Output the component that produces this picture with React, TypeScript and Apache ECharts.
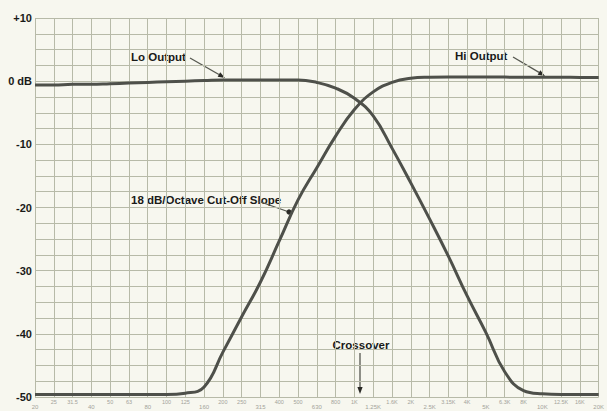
import React, { useEffect, useRef } from 'react';
import * as echarts from 'echarts';

const frequencies = ['20', '25', '31.5', '40', '50', '63', '80', '100', '125', '160', '200', '250', '315', '400', '500', '630', '800', '1K', '1.25K', '1.6K', '2K', '2.5K', '3.15K', '4K', '5K', '6.3K', '8K', '10K', '12.5K', '16K', '20K'];

const loOutput = [-0.6, -0.6, -0.5, -0.5, -0.4, -0.3, -0.2, -0.1, 0, 0.1, 0.2, 0.2, 0.2, 0.2, 0.2, -0.2, -1.1, -2.7, -5.5, -10.6, -16.1, -21.8, -27.7, -34, -39.8, -46, -49, -49.5, -49.6, -49.6, -49.6];

const hiOutput = [-49.6, -49.6, -49.6, -49.6, -49.6, -49.6, -49.6, -49.6, -49.4, -48.4, -42.9, -37.3, -31.8, -25.3, -18.8, -13.7, -8.7, -4.5, -1.7, -0.2, 0.45, 0.62, 0.66, 0.65, 0.65, 0.64, 0.63, 0.62, 0.62, 0.6, 0.6];

const yTickLabels: Record<string, string> = { '10': '+10', '0': '0 dB', '-10': '-10', '-20': '-20', '-30': '-30', '-40': '-40', '-50': '-50' };

const FONT = '"Liberation Sans", Arial, sans-serif';
const INK = '#1a1a18';

function arrow(x1: number, y1: number, x2: number, y2: number, len = 7, half = 2.6) {
  const a = Math.atan2(y2 - y1, x2 - x1);
  const bx = x2 - len * Math.cos(a);
  const by = y2 - len * Math.sin(a);
  const px = -Math.sin(a) * half;
  const py = Math.cos(a) * half;
  return {
    type: 'group',
    children: [
      { type: 'line', shape: { x1, y1, x2: bx, y2: by }, style: { stroke: '#55574f', lineWidth: 1.3 } },
      { type: 'polygon', shape: { points: [[x2, y2], [bx + px, by + py], [bx - px, by - py]] }, style: { fill: '#2a2a26' } },
    ],
  };
}

function textEl(x: number, y: number, text: string, align: string = 'left') {
  return {
    type: 'text',
    x,
    y,
    style: { text, fill: INK, font: `bold 11.5px ${FONT}`, align, verticalAlign: 'middle' },
  };
}

export default function App() {
  const ref = useRef<HTMLDivElement>(null);
  useEffect(() => {
    if (!ref.current) return;
    const chart = echarts.init(ref.current, null, { renderer: 'svg' });
    const gridColor = '#b7baa8';
    chart.setOption({
      animation: false,
      backgroundColor: '#f7f7ef',
      textStyle: { fontFamily: FONT },
      grid: { left: 35, right: 0, top: 18, bottom: 14, containLabel: false },
      xAxis: [
        {
          type: 'category',
          data: frequencies,
          boundaryGap: false,
          axisLine: { show: false },
          axisTick: { show: false },
          splitLine: { show: true, interval: 0, lineStyle: { color: gridColor, width: 1 } },
          axisLabel: {
            interval: 0,
            hideOverlap: false,
            margin: 2,
            fontSize: 5.5,
            color: '#a3a39a',
            formatter: (v: string, i: number) => (i % 3 === 0 ? '' : v),
          },
        },
        {
          type: 'category',
          data: frequencies,
          boundaryGap: false,
          position: 'bottom',
          axisLine: { show: false },
          axisTick: { show: false },
          splitLine: { show: false },
          axisLabel: {
            interval: 0,
            hideOverlap: false,
            margin: 7,
            fontSize: 6,
            color: '#a3a39a',
            formatter: (v: string, i: number) => (i % 3 === 0 ? v : ''),
          },
        },
      ],
      yAxis: {
        type: 'value',
        min: -50,
        max: 10,
        interval: 2.5,
        axisLine: { show: false },
        axisTick: { show: false },
        splitLine: { show: true, lineStyle: { color: gridColor, width: 1 } },
        axisLabel: {
          margin: 3,
          fontSize: 11,
          fontWeight: 'bold',
          color: INK,
          formatter: (v: number) => yTickLabels[String(v)] ?? '',
        },
      },
      series: [
        {
          name: 'Lo Output',
          type: 'line',
          data: loOutput,
          smooth: 0.45,
          symbol: 'none',
          lineStyle: { color: '#4e504a', width: 3 },
        },
        {
          name: 'Hi Output',
          type: 'line',
          data: hiOutput,
          smooth: 0.45,
          symbol: 'none',
          lineStyle: { color: '#4e504a', width: 3 },
        },
      ],
      graphic: [
        textEl(131, 57, 'Lo Output'),
        arrow(190, 58, 225, 78),
        textEl(455, 56, 'Hi Output'),
        arrow(513, 57, 545, 76),
        textEl(131, 200, '18 dB/Octave Cut-Off Slope'),
        { type: 'line', shape: { x1: 258, y1: 201, x2: 289, y2: 212 }, style: { stroke: '#55574f', lineWidth: 1.3 } },
        { type: 'circle', shape: { cx: 289, cy: 212, r: 2.6 }, style: { fill: '#2a2a26' } },
        textEl(361, 345, 'Crossover', 'center'),
        arrow(360, 353, 360, 394),
      ],
    });
    return () => chart.dispose();
  }, []);
  return <div ref={ref} style={{ position: 'absolute', left: 0, top: 0, width: 607, height: 411 }} />;
}
